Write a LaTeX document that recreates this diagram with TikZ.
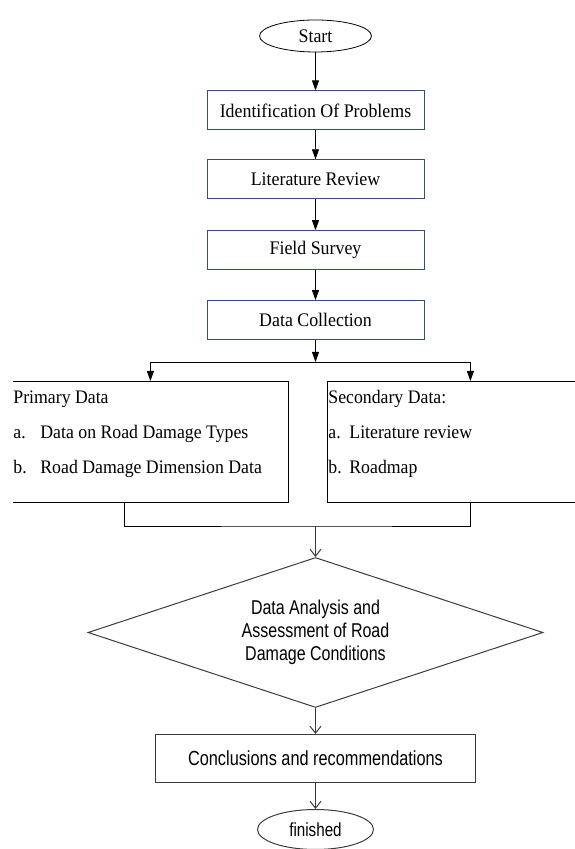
\documentclass[tikz,border=0pt]{standalone}
\usepackage{fontspec}
\setmainfont{Liberation Serif}[FakeStretch=0.93]
\newfontfamily\flowsans[FakeStretch=0.8]{Liberation Sans}
\usepackage{tikz}
\usetikzlibrary{arrows.meta,positioning,shapes.geometric}
\definecolor{boxblue} {RGB}{52, 78,120}
\definecolor{linegray}{RGB}{60, 60, 60}
\tikzset{
  term/.style={ellipse,draw=black,line width=0.8pt,inner sep=0pt,
               minimum width=112pt,minimum height=32pt,
               font=\fontsize{19.2}{21}\selectfont},
  termsans/.style={term,draw=linegray,line width=1pt,
               minimum width=116pt,minimum height=40pt,
               font=\flowsans\fontsize{19}{22}\selectfont},
  stepbox/.style={draw=boxblue,line width=0.9pt,inner sep=0pt,
               minimum width=217pt,minimum height=39pt,
               font=\fontsize{19.2}{21}\selectfont},
  databox/.style={draw=black,line width=0.8pt,inner sep=1pt,anchor=north west,
               font=\fontsize{19.1}{35}\selectfont},
  decide/.style={diamond,draw=linegray,line width=1pt,aspect=3,inner sep=0pt,
               minimum width=455pt,minimum height=150pt,align=center,
               font=\flowsans\fontsize{20}{23}\selectfont},
  resbox/.style={draw=linegray,line width=1pt,
               minimum width=320pt,minimum height=48pt,
               font=\flowsans\fontsize{20.4}{23}\selectfont},
  arr/.style={-{Triangle[length=10pt,width=7pt]},line width=0.8pt},
  arrlow/.style={-{Straight Barb[length=7pt,width=11pt]},line width=1pt,color=linegray},
  linkline/.style={line width=0.9pt},
}

\begin{document}
\begin{tikzpicture}[x=1pt,y=1pt]
  \useasboundingbox (0,0) rectangle (575,849);
  \clip (13,0) rectangle (575,849);
  % Main chain
  \node[term] (START) at (315.5,813)           {Start};
  \node[stepbox,below=38pt of START] (IDENT)    {Identification Of Problems};
  \node[stepbox,below=29pt of IDENT] (LIT_REV)  {Literature Review};
  \node[stepbox,below=31pt of LIT_REV] (FIELD)  {Field Survey};
  \node[stepbox,below=30pt of FIELD] (DATA_COLL){Data Collection};
  \coordinate[below=22pt of DATA_COLL] (SPLIT);

  % Data boxes
  \node[databox] (PRIMARY) at (12,468) {\parbox[c][119pt][t]{274pt}{%
      \rule{0pt}{21pt}Primary Data\\
      \makebox[27pt][l]{a.}Data on Road Damage Types\\
      \makebox[27pt][l]{b.}Road Damage Dimension Data}};
  \node[databox] (SECONDARY) at (327,468) {\parbox[c][119pt][t]{284pt}{%
      \rule{0pt}{21pt}Secondary Data:\\
      \makebox[21pt][l]{a.}Literature review\\
      \makebox[21pt][l]{b.}Roadmap}};
  \coordinate (JOIN) at (315.5,323);

  % Lower chain
  \node[decide,below=31pt of JOIN] (ANALYSIS)
      {Data Analysis and\\Assessment of Road\\Damage Conditions};
  \node[resbox,below=26pt of ANALYSIS] (CONCL) {Conclusions and recommendations};
  \node[termsans,below=26pt of CONCL] (FINISH) {finished};

  % Arrows main chain
  \draw[arr] (START)   -- (IDENT);
  \draw[arr] (IDENT)   -- (LIT_REV);
  \draw[arr] (LIT_REV) -- (FIELD);
  \draw[arr] (FIELD)   -- (DATA_COLL);
  \draw[arr] (DATA_COLL) -- (SPLIT);
  \draw[arr] (SPLIT) -| (PRIMARY.north);
  \draw[arr] (SPLIT) -| (SECONDARY.north);

  % Merge and lower arrows
  \draw[linkline] ([xshift=-26pt]PRIMARY.south) |- (JOIN) -| (SECONDARY.south);
  \draw[arrlow] (JOIN)     -- (ANALYSIS);
  \draw[arrlow] (ANALYSIS) -- (CONCL);
  \draw[arrlow] (CONCL)    -- (FINISH);
\end{tikzpicture}
\end{document}
